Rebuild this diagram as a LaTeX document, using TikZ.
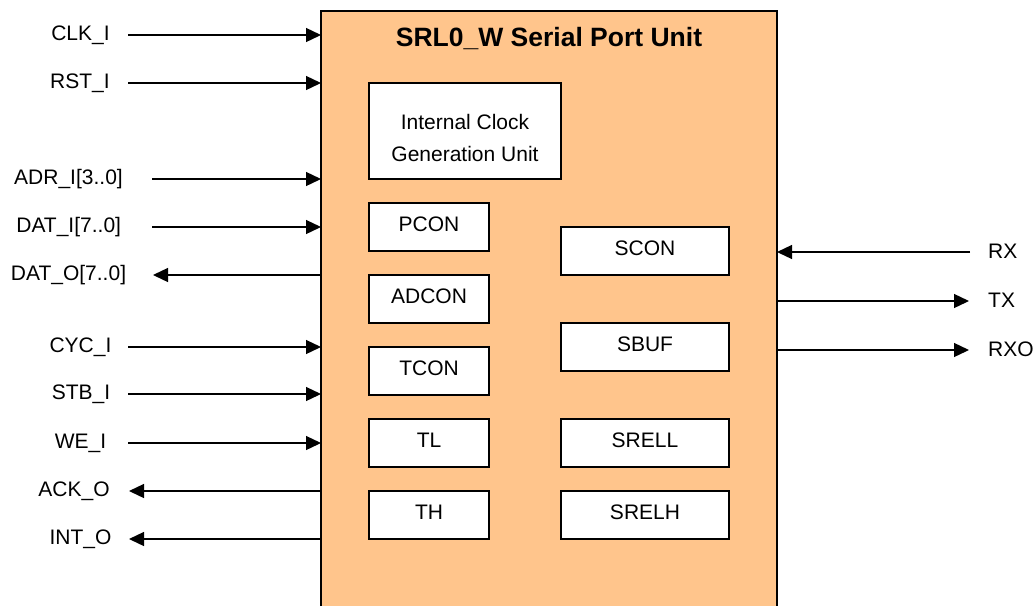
\documentclass[tikz,border=0pt]{standalone}
\usepackage{fontspec}
\setmainfont{Liberation Sans}
\usetikzlibrary{arrows.meta}
\definecolor{unitfill}{RGB}{255,197,140}
\begin{document}
\begin{tikzpicture}[x=1pt,y=-1pt,
  lbl/.style={inner sep=0pt, font=\fontsize{21}{25}\selectfont, anchor=base},
  rlbl/.style={lbl, anchor=base west},
  reg/.style={draw=black, line width=1.6pt, fill=white, minimum width=120pt, minimum height=48pt,
              inner sep=0pt, text height=15pt, text depth=6pt, font=\fontsize{21}{25}\selectfont},
  regw/.style={reg, minimum width=168pt},
  sig/.style={line width=1.3pt, -{Triangle[length=15pt,width=14pt]}},
]
\useasboundingbox (0,0) rectangle (1036,606);
% main unit
\fill[unitfill] (321,11) rectangle (777,606);
\draw[line width=2pt] (321,606) -- (321,11) -- (777,11) -- (777,606);
\node[inner sep=0pt, anchor=base, font=\bfseries\fontsize{26.5}{30}\selectfont] (title) at (549,46) {SRL0\_W Serial Port Unit};
% internal clock generation unit
\node[draw=black, line width=1.6pt, fill=white, minimum width=192pt, minimum height=96pt, inner sep=0pt] (icgu) at (465,131) {};
\node[lbl] (icgu1) at (465,129) {Internal Clock};
\node[lbl] (icgu2) at (465,161) {Generation Unit};
% registers
\node[reg] (pcon) at (429,227) {PCON};
\node[reg] (adcon) at (429,299) {ADCON};
\node[reg] (tcon) at (429,371) {TCON};
\node[reg] (tl) at (429,443) {TL};
\node[reg] (th) at (429,515) {TH};
\node[regw] (scon) at (645,251) {SCON};
\node[regw] (sbuf) at (645,347) {SBUF};
\node[regw] (srell) at (645,443) {SRELL};
\node[regw] (srelh) at (645,515) {SRELH};
% inputs on the left
\foreach \n/\t/\y/\cx/\sx in {clk/CLK\_I/35/80.5/128, rst/RST\_I/83/80/128, adr/ADR\_I[3..0]/179/68.5/152,
    dati/DAT\_I[7..0]/227/68.7/152, cyc/CYC\_I/347/80.5/128, stb/STB\_I/394/81/128, we/WE\_I/443/80.5/128}{
  \node[lbl] (\n) at (\cx,\y+5.5) {\t};
  \coordinate (\n S) at (\sx,\y);
  \coordinate (\n E) at (321,\y);
  \draw[sig] (\n S) -- (\n E);
}
% outputs on the left
\foreach \n/\t/\y/\cx/\tx in {dato/DAT\_O[7..0]/275/68.5/153, ack/ACK\_O/491/74/129, int/INT\_O/539/80.5/129}{
  \node[lbl] (\n) at (\cx,\y+5.5) {\t};
  \coordinate (\n S) at (321,\y);
  \coordinate (\n E) at (\tx,\y);
  \draw[sig] (\n S) -- (\n E);
}
% right side
\node[rlbl] (rx) at (988,258) {RX};
\node[rlbl] (tx) at (988,307) {TX};
\node[rlbl] (rxo) at (988,356) {RXO};
\coordinate (rxS) at (970,252); \coordinate (rxE) at (777,252);
\coordinate (txS) at (777,301); \coordinate (txE) at (969,301);
\coordinate (rxoS) at (777,350); \coordinate (rxoE) at (969,350);
\draw[sig] (rxS) -- (rxE);
\draw[sig] (txS) -- (txE);
\draw[sig] (rxoS) -- (rxoE);
\end{tikzpicture}
\end{document}
